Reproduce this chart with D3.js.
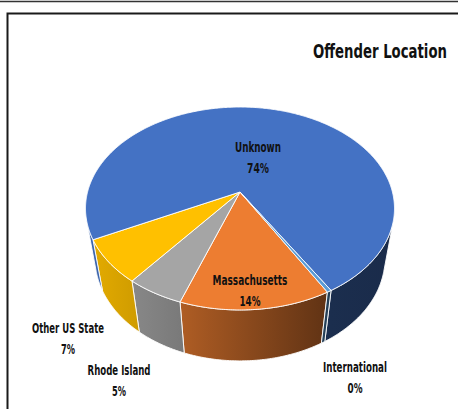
<!DOCTYPE html>
<html>
<head>
<meta charset="utf-8">
<script src="https://cdn.jsdelivr.net/npm/d3@7/dist/d3.min.js"></script>
<style>
  html, body { margin: 0; padding: 0; background: #fff; }
  svg { display: block; }
  text { font-family: "Liberation Sans Narrow", "DejaVu Sans Condensed", "Liberation Sans", sans-serif; font-weight: bold; fill: #111; }
</style>
</head>
<body>
<svg id="chart" width="458" height="409"></svg>
<script>
// Offender location shares (percent), listed clockwise from the Massachusetts slice
const categories = ["Massachusetts", "Rhode Island", "Other US State", "Unknown", "International"];
const shares = [13.6, 5.2, 7.0, 73.8, 0.4];
const sliceColors = ["#ED7D31", "#A5A5A5", "#FFC000", "#4472C4", "#5B9BD5"];
const title = "Offender Location";

// label anchors (centre between name and percent lines) and text widths
const labelAnchor = [[250, 290.5], [119, 380.5], [68, 338.5], [258, 157.5], [355, 377]];
const nameWidth = [75, 63, 72, 46, 64];
const pctWidth = [21, 14, 14, 22, 15];

const svg = d3.select("#chart");
const W = 458, H = 409;

// frame lines
svg.append("line").attr("x1", 0).attr("x2", W).attr("y1", 1.5).attr("y2", 1.5)
  .attr("stroke", "#333").attr("stroke-width", 1.5);
svg.append("rect").attr("x", 7.5).attr("y", 13.5).attr("width", 470).attr("height", 420)
  .attr("fill", "none").attr("stroke", "#1a1a1a").attr("stroke-width", 2);

// simple perspective camera for a tilted disc of radius 1
const cx = 240, cy = 192, f = 715, D = 4.69, alpha = Math.asin(0.648), thickness = 0.46;
function project(theta, r, yh) {
  const X = r * Math.cos(theta), Z = r * Math.sin(theta);
  const v = Z * Math.sin(alpha) - yh * Math.cos(alpha);
  const d = D - Z * Math.cos(alpha) - yh * Math.sin(alpha);
  return [cx + f * X / d, cy + f * v / d];
}
function arcPoints(a, b, r, yh) {
  const n = Math.max(2, Math.ceil(Math.abs(b - a) / 0.01));
  return d3.range(n + 1).map(i => project(a + (b - a) * i / n, r, yh));
}

const start = 60.5 * Math.PI / 180;
const arcs = d3.pie().sort(null).value(d => d)
  .startAngle(start).endAngle(start + 2 * Math.PI)(shares);

// side shading across the wall, lighter on the left
const shade = d3.scaleLinear().domain([85, 180, 330, 394]).range([0.9, 0.74, 0.4, 0.38]);
const defs = svg.append("defs");
sliceColors.forEach((c, i) => {
  const g = defs.append("linearGradient").attr("id", "side" + i)
    .attr("gradientUnits", "userSpaceOnUse").attr("x1", 85).attr("x2", 394).attr("y1", 0).attr("y2", 0);
  shade.domain().forEach(x => {
    const k = shade(x), base = d3.rgb(c);
    g.append("stop").attr("offset", (x - 85) / (394 - 85))
      .attr("stop-color", d3.rgb(base.r * k, base.g * k, base.b * k).formatHex());
  });
});

// visible part of the outer wall
const ts = Math.asin(1 / (D * Math.cos(alpha)));
const walls = [];
arcs.forEach((a, i) => {
  for (let k = 0; k < 2; k++) {
    const lo = Math.max(a.startAngle, ts + 2 * Math.PI * k);
    const hi = Math.min(a.endAngle, Math.PI - ts + 2 * Math.PI * k);
    if (hi > lo) walls.push({ i, lo, hi });
  }
});

const line = d3.line();
svg.append("g").selectAll("path").data(walls).join("path")
  .attr("d", w => line(arcPoints(w.lo, w.hi, 1, 0).concat(arcPoints(w.hi, w.lo, 1, -thickness))) + "Z")
  .attr("fill", w => `url(#side${w.i})`)
  .attr("stroke", "#fff").attr("stroke-width", 0.9).attr("stroke-linejoin", "round");

// top faces
const apex = project(0, 0, 0);
svg.append("g").selectAll("path").data(arcs).join("path")
  .attr("d", a => line([apex].concat(arcPoints(a.startAngle, a.endAngle, 1, 0))) + "Z")
  .attr("fill", (a, i) => sliceColors[i])
  .attr("stroke", "#fff").attr("stroke-width", 0.9).attr("stroke-linejoin", "round");

// text squeezed horizontally to a target width around its centre
function fittedText(parent, x, y, str, size, width) {
  const t = parent.append("text").attr("text-anchor", "middle")
    .attr("font-size", size).text(str);
  const natural = t.node().getComputedTextLength();
  const s = natural > 0 ? width / natural : 1;
  t.attr("transform", `translate(${x},${y}) scale(${s},1)`);
  return t;
}

// labels
const lab = svg.append("g");
categories.forEach((name, i) => {
  const [x, y] = labelAnchor[i];
  fittedText(lab, x, y - 5.5, name, 14, nameWidth[i]);
  fittedText(lab, x, y + 15.5, Math.round(shares[i]) + "%", 14, pctWidth[i]);
});

fittedText(svg, 380, 58, title, 20, 134);
</script>
</body>
</html>
